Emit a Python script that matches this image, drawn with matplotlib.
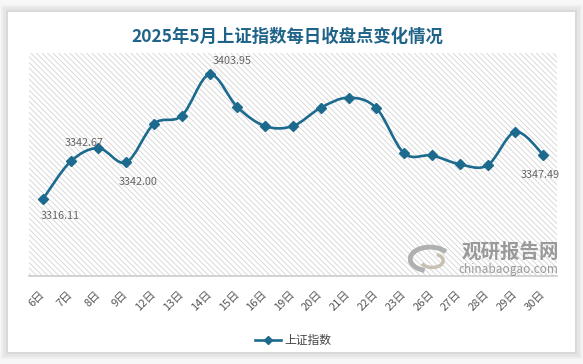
import numpy as np
import matplotlib.pyplot as plt
from matplotlib.path import Path
from matplotlib.patches import PathPatch, Rectangle, Arc

plt.rcParams['font.family'] = ['Noto Sans CJK SC', 'DejaVu Sans']
plt.rcParams['hatch.linewidth'] = 0.6
plt.rcParams['hatch.color'] = '#d4d4d4'

# data
days = ['6日', '7日', '8日', '9日', '12日', '13日', '14日', '15日', '16日', '19日',
        '20日', '21日', '22日', '23日', '26日', '27日', '28日', '29日', '30日']
close = [3316.11, 3342.67, 3352.00, 3342.00, 3369.24, 3374.87, 3403.95, 3380.82, 3367.46,
         3367.58, 3380.48, 3387.57, 3380.19, 3348.37, 3346.84, 3340.69, 3339.93, 3363.45, 3347.49]
# which points carry a value label and the label offset in pixels
label_idx = [0, 1, 3, 6, 18]
label_off = [(17, -17), (14, 18), (12, -20), (23, 13), (-3, -20)]

line_c = '#1d6a8f'
title_c = '#1f6389'

fig = plt.figure(figsize=(5.83, 3.64), dpi=100)
fig.patch.set_facecolor('#f7f7f7')

# white card with soft shadow
for i, a in enumerate([0.03, 0.04, 0.05]):
    d = (3 - i) * 0.004
    fig.patches.append(Rectangle((8/583 - d, 12/364 - d*1.6), 567/583 + 2*d, 340/364 + 2*d*1.6,
                                 transform=fig.transFigure, facecolor='black', alpha=a,
                                 edgecolor='none', zorder=-3))
fig.patches.append(Rectangle((8/583, 12/364), 567/583, 340/364, transform=fig.transFigure,
                             facecolor='white', edgecolor='none', zorder=-2))

ax = fig.add_axes([29/583, 88/364, 528/583, 223/364])
ax.set_facecolor('white')
ax.add_patch(Rectangle((0, 0), 1, 1, transform=ax.transAxes, facecolor='white',
                       edgecolor='#d4d4d4', hatch='\\\\\\\\\\\\', linewidth=0, zorder=0))

x = np.arange(len(days))
y = np.array(close)

# smooth curve through the points (cardinal spline as bezier segments)
verts = [(x[0], y[0])]
codes = [Path.MOVETO]
for i in range(len(x) - 1):
    p0 = np.array([x[max(i-1, 0)], y[max(i-1, 0)]])
    p1 = np.array([x[i], y[i]])
    p2 = np.array([x[i+1], y[i+1]])
    p3 = np.array([x[min(i+2, len(x)-1)], y[min(i+2, len(x)-1)]])
    c1 = p1 + (p2 - p0) / 6
    c2 = p2 - (p3 - p1) / 6
    verts += [tuple(c1), tuple(c2), tuple(p2)]
    codes += [Path.CURVE4] * 3
ax.add_patch(PathPatch(Path(verts, codes), facecolor='none', edgecolor=line_c, lw=1.9, zorder=3))
ax.plot(x, y, linestyle='none', marker='D', markersize=5.5, color=line_c, zorder=4)

for i, off in zip(label_idx, label_off):
    ax.annotate(f'{close[i]:.2f}', (x[i], y[i]), xytext=off, textcoords='offset pixels',
                ha='center', va='center', fontsize=7.8, color='#666666', zorder=5)

ax.set_xlim(-0.5, len(days) - 0.5)
ax.set_ylim(3262, 3419)
ax.set_yticks([])
ax.set_xticks(x)
ax.set_xticklabels(days, rotation=45, ha='right', va='center', rotation_mode='anchor',
                   fontsize=8, color='#555555')
ax.tick_params(axis='x', length=0, pad=12)
for s in ['top', 'left', 'right']:
    ax.spines[s].set_visible(False)
ax.spines['bottom'].set_color('#cccccc')
ax.spines['bottom'].set_linewidth(1.2)

# watermark
fig.text(510/583, 1 - 252/364, '观研报告网', ha='center', va='center', fontsize=14,
         fontweight='bold', color='#8a8a8a', alpha=0.85)
fig.text(508/583, 1 - 270/364, 'chinabaogao.com', ha='center', va='center', fontsize=8.5,
         color='#8a8a8a', alpha=0.85)
wm = fig.add_axes([408/583, 1 - 276/364, 44/583, 34/364])
wm.set_xlim(-1, 1)
wm.set_ylim(-1, 1)
wm.axis('off')
wm.add_patch(Arc((0, 0), 1.8, 1.4, theta1=30, theta2=250, lw=3.5, color='#b0b0b0'))
wm.add_patch(Arc((0.1, -0.1), 1.0, 0.8, theta1=200, theta2=60, lw=2.5, color='#c8c0b0'))

fig.text(287/583, 1 - 37/364, '2025年5月上证指数每日收盘点变化情况', ha='center', va='center',
         fontsize=12.5, fontweight='bold', color=title_c)

leg = ax.legend(handles=[plt.Line2D([], [], color=line_c, lw=1.9, marker='D', markersize=4)],
                labels=['上证指数'], loc='center', bbox_to_anchor=(0.5, -0.29),
                frameon=False, fontsize=8.5, handlelength=2.2, handletextpad=0.3)
for t in leg.get_texts():
    t.set_color('#444444')

fig.savefig('out.png', dpi=100)
